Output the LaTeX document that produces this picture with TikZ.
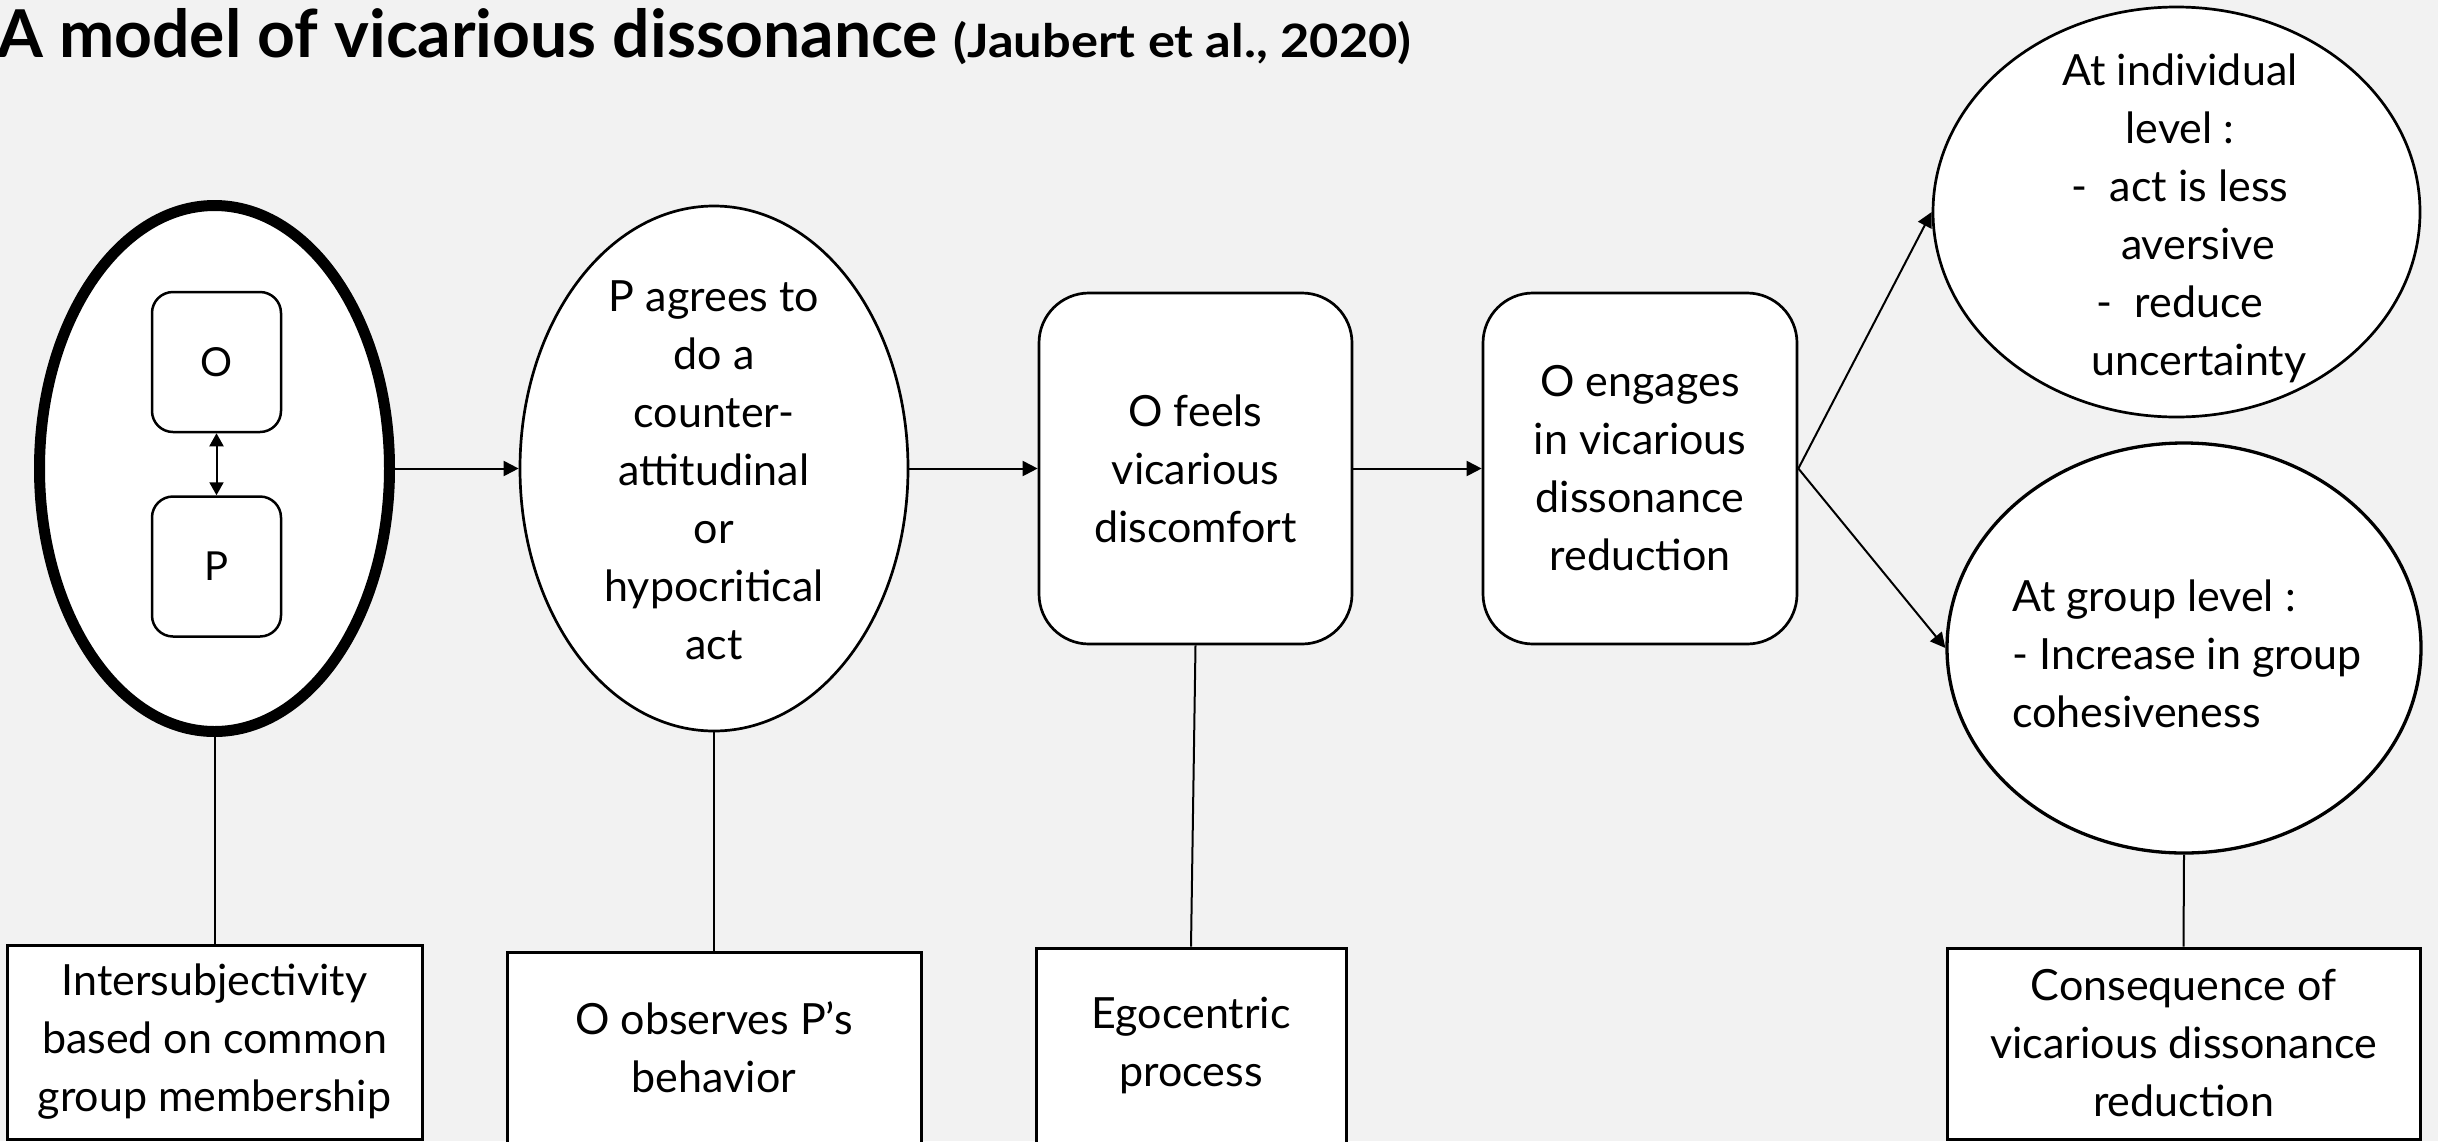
\documentclass[tikz,border=0pt]{standalone}
\usepackage{fontspec}
\setmainfont{Lato}
\usetikzlibrary{shapes.geometric,arrows.meta}
\definecolor{bg}{HTML}{F2F2F2}
\newcommand{\mfs}{\fontsize{43}{58}\selectfont}
\tikzset{
  ell/.style={ellipse, draw, fill=white, line width=2.7pt, inner sep=0pt},
  rbox/.style={rectangle, rounded corners=50pt, draw, fill=white, line width=2.7pt, align=center, font=\mfs, inner sep=0pt},
  smallbox/.style={rectangle, rounded corners=21pt, draw, fill=white, line width=2.5pt, minimum width=129pt, minimum height=140pt, font=\fontsize{40}{48}\selectfont, inner sep=0pt},
  lbox/.style={rectangle, draw, fill=white, line width=3pt, align=center, font=\mfs, inner sep=0pt},
  txt/.style={align=center, font=\mfs, inner sep=0pt},
  arr/.style={-{Triangle[length=15pt,width=15pt]}, line width=2pt},
  link/.style={line width=2pt}
}
\begin{document}
\begin{tikzpicture}[x=1pt,y=-1pt]
\fill[bg] (0,0) rectangle (2438,1141);
\useasboundingbox (0,0) rectangle (2438,1141);

% title
\node[anchor=base west, inner sep=0pt] (title) at (-3,57)
  {\fontsize{66}{72}\selectfont\bfseries A model of vicarious dissonance \scalebox{1.1}[1]{\fontsize{46}{52}\selectfont\bfseries(Jaubert et al., 2020)}};

% first ellipse with O and P
\node[ell, line width=11pt, minimum width=350pt, minimum height=526pt] (e1) at (214.5,468.5) {};
\node[smallbox] (o) at (216.5,362) {O};
\node[smallbox] (p) at (216.5,566.5) {P};
\draw[{Triangle[length=13pt,width=14pt]}-{Triangle[length=13pt,width=14pt]}, line width=2pt] (o.south) -- (p.north);

% second ellipse
\node[ell, minimum width=388pt, minimum height=525pt] (e2) at (714,468.5) {};
\node[txt] (e2t) at (714,470) {P agrees to\\do a\\counter-\\attitudinal\\or\\hypocritical\\act};

% rounded boxes
\node[rbox, minimum width=313pt, minimum height=351pt] (b3) at (1195.5,468.5) {O feels\\vicarious\\discomfort};
\node[rbox, minimum width=314pt, minimum height=351pt] (b4) at (1640,468.5) {O engages\\in vicarious\\dissonance\\reduction};

% right ellipses
\node[ell, minimum width=487pt, minimum height=410pt] (e3) at (2176.5,212) {};
\node[txt] (e3t) at (2180,218) {At individual\\level :\\-\ \ act is less\\\hspace*{36pt}aversive\\-\ \ reduce\\\hspace*{38pt}uncertainty};
\node[ell, line width=3.3pt, minimum width=474pt, minimum height=410pt] (e4) at (2184,648) {};
\node[txt, align=left] (e4t) at (2187,654) {At group level :\\- Increase in group\\cohesiveness};

% bottom boxes
\node[lbox, minimum width=415pt, minimum height=194pt] (l1) at (214.5,1042) {Intersubjectivity\\based on common\\group membership};
\node[lbox, minimum width=414pt, minimum height=191pt] (l2) at (714,1047.5) {O observes P’s\\behavior};
\node[lbox, minimum width=310pt, minimum height=195pt] (l3) at (1191,1045.5) {Egocentric\\process};
\node[lbox, minimum width=473pt, minimum height=191pt] (l4) at (2183.5,1043.5) {Consequence of\\vicarious dissonance\\reduction};

% connectors
\draw[arr] (e1.east) -- (e2.west);
\draw[arr] (e2.east) -- (b3.west);
\draw[arr] (b3.east) -- (b4.west);
\draw[arr] (b4.east) -- (e3.west);
\draw[arr] (b4.east) -- (e4.west);
\draw[link] (e1.south) -- (l1.north);
\draw[link] (e2.south) -- (l2.north);
\draw[link] (b3.south) -- (l3.north);
\draw[link] (e4.south) -- (l4.north);
\end{tikzpicture}
\end{document}
